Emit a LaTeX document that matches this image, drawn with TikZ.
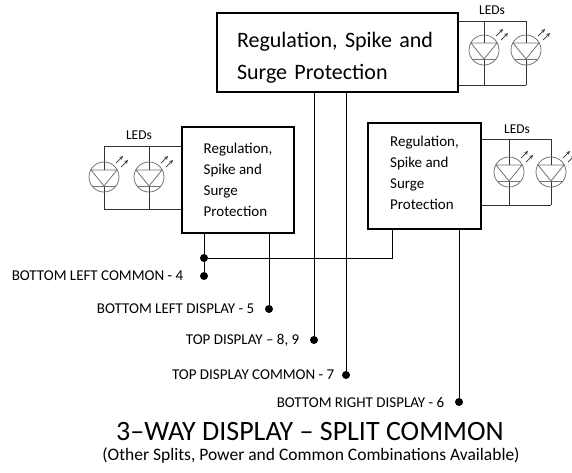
\documentclass[tikz,border=0pt]{standalone}
\usepackage{fontspec}
\usetikzlibrary{positioning}
\setmainfont{Carlito}
\begin{document}
\begin{tikzpicture}[>=stealth, x=1pt, y=-1pt]

\tikzset{%
reg box/.style={
draw,
line width=1.5pt,
align=left,
inner sep=0pt
},
wire/.style={line width=1pt},
led wire/.style={line width=0.9pt, black!80},
terminal/.style={circle, fill, inner sep=0pt, minimum size=8pt},
pin text/.style={font=\fontsize{15}{18}\selectfont},
led text/.style={font=\fontsize{13.5}{16}\selectfont, inner sep=0pt},
pics/led/.style={code={
\draw [black!55, line width=0.8pt] (0,0) circle (15);
\draw [black!55, line width=0.8pt, fill=white] (-13,-7) -- (13,-7) -- (0,9) -- cycle;
\draw [black!55, line width=0.8pt] (-12,9) -- (12,9);
\draw [->, black!80, line width=0.7pt] (12,-14) -- (19,-21);
\draw [->, black!80, line width=0.7pt] (17,-10) -- (24,-17);
}},
}

\useasboundingbox (0,0) rectangle (572,472);

% Regulation boxes
\node [reg box, inner xsep=20pt, text width=201pt, minimum height=79pt, font=\fontsize{22}{32}\selectfont] (top-box) at (337.5,52.5) {\rule{0pt}{26pt}Regulation, Spike and\\Surge Protection};
\node [reg box, minimum width=112pt, minimum height=106pt, font=\fontsize{15}{21}\selectfont] (left-box) at (238,180) {Regulation,\\Spike and\\Surge\\Protection};
\node [reg box, minimum width=113pt, minimum height=106pt, font=\fontsize{15}{21}\selectfont] (right-box) at (424.5,176) {Regulation,\\Spike and\\Surge\\Protection\rule[-7pt]{0pt}{7pt}};

% LEDs of the top box
\foreach \x [count=\i] in {484,526} {
\coordinate (top-led-\i-a) at (\x,21);
\coordinate (top-led-\i-b) at (\x,85);
\draw [led wire] (top-led-\i-a) -- (top-led-\i-b);
\pic at (\x,50) {led};
}
\draw [led wire] (top-box.east |- top-led-1-a) -- (top-led-2-a);
\draw [led wire] (top-box.east |- top-led-1-b) -- (top-led-2-b);
\node [led text] (top-leds) at (492,10) {LEDs};

% LEDs of the left box
\foreach \x [count=\i] in {104,149} {
\coordinate (left-led-\i-a) at (\x,146);
\coordinate (left-led-\i-b) at (\x,209);
\draw [led wire] (left-led-\i-a) -- (left-led-\i-b);
\pic at (\x,177) {led};
}
\draw [led wire] (left-led-1-a) -- (left-box.west |- left-led-1-a);
\draw [led wire] (left-led-1-b) -- (left-box.west |- left-led-1-b);
\node [led text] (left-leds) at (139,135) {LEDs};

% LEDs of the right box
\foreach \x [count=\i] in {509,551} {
\coordinate (right-led-\i-a) at (\x,139);
\coordinate (right-led-\i-b) at (\x,205);
\draw [led wire] (right-led-\i-a) -- (right-led-\i-b);
\pic at (\x,172) {led};
}
\draw [led wire] (right-box.east |- right-led-1-a) -- (right-led-2-a);
\draw [led wire] (right-box.east |- right-led-1-b) -- (right-led-2-b);
\node [led text] (right-leds) at (517,129) {LEDs};

% Output pins and their labels
\foreach \n/\x/\y/\d/\t in {blc/204/276/13/{BOTTOM LEFT COMMON - 4},
bld/269/309/7/{BOTTOM LEFT DISPLAY - 5},
td/314/340/7/{TOP DISPLAY – 8, 9},
tdc/346/375/4/{TOP DISPLAY COMMON - 7},
brd/459/402/7/{BOTTOM RIGHT DISPLAY - 6}} {
\node [terminal] (\n) at (\x,\y) {};
\node [pin text, left=\d pt of \n] (\n-text) {\t};
}

% Common junction
\node [terminal] (jct) at (204,258) {};
\coordinate (right-com) at ([xshift=25pt]right-box.south west);

% Connections to the pins
\draw [wire] (left-box.south -| blc) -- (blc);
\draw [wire] (left-box.south -| bld) -- (bld);
\draw [wire] (top-box.south -| td) -- (td);
\draw [wire] (top-box.south -| tdc) -- (tdc);
\draw [wire] (right-box.south -| brd) -- (brd);
\draw [wire] (jct) -| (right-com);

% Title
\node [font=\fontsize{28}{32}\selectfont, inner sep=1pt] (title) at (310,432) {3–WAY DISPLAY – SPLIT COMMON};
\node [font=\fontsize{17.5}{20}\selectfont, inner sep=1pt] (subtitle) at (311,455) {(Other Splits, Power and Common Combinations Available)};

\end{tikzpicture}
\end{document}
